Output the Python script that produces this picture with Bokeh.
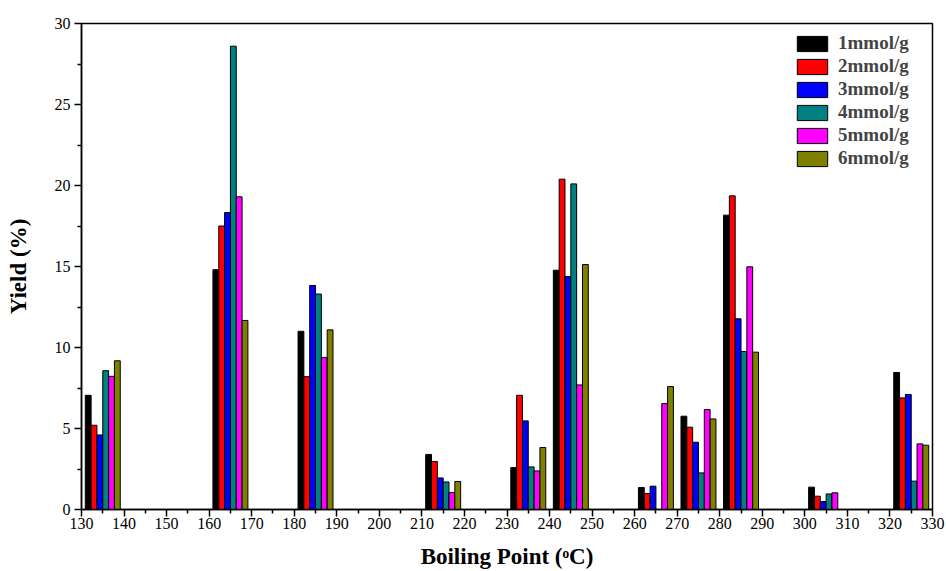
import math
from bokeh.plotting import figure
from bokeh.models import FixedTicker, Legend, LegendItem, ColumnDataSource
from bokeh.embed import file_html
from bokeh.resources import INLINE

nan = float("nan")

# Boiling point group centres (deg C)
boiling_points = [135, 165, 185, 215, 235, 245, 265, 275, 285, 305, 325]
series_names = ["1mmol/g", "2mmol/g", "3mmol/g", "4mmol/g", "5mmol/g", "6mmol/g"]
series_colors = ["#000000", "#FF0000", "#0000FF", "#008080", "#FF00FF", "#808000"]

yield_1 = [7.05, 14.8, 11.0, 3.4, 2.59, 14.77, 1.36, 5.76, 18.17, 1.38, 8.46]
yield_2 = [5.2, 17.5, 8.2, 2.96, 7.05, 20.39, 0.99, 5.08, 19.36, 0.82, 6.89]
yield_3 = [4.6, 18.33, 13.83, 1.95, 5.47, 14.38, 1.44, 4.15, 11.77, 0.49, 7.1]
yield_4 = [8.57, 28.6, 13.3, 1.7, 2.63, 20.1, nan, 2.26, 9.75, 0.96, 1.75]
yield_5 = [8.22, 19.3, 9.38, 1.05, 2.38, 7.69, 6.54, 6.17, 14.98, 1.03, 4.05]
yield_6 = [9.18, 11.67, 11.09, 1.73, 3.83, 15.12, 7.59, 5.59, 9.71, nan, 3.97]
all_series = [yield_1, yield_2, yield_3, yield_4, yield_5, yield_6]

x_ticks = list(range(130, 331, 10))
x_minor = list(range(135, 330, 10))
y_ticks = [0, 5, 10, 15, 20, 25, 30]
y_minor = [2.5, 7.5, 12.5, 17.5, 22.5, 27.5]

BAR_W = 1.37
SERIF = "Liberation Serif"

p = figure(width=946, height=571, output_backend="svg", toolbar_location=None,
           x_range=(130, 330), y_range=(0, 30),
           min_border_left=81, min_border_right=14, min_border_top=23, min_border_bottom=62)
p.xgrid.visible = False
p.ygrid.visible = False
p.outline_line_color = "black"
p.outline_line_width = 1.5
p.background_fill_color = "white"
p.border_fill_color = "white"

items = []
n = len(all_series)
for i, (vals, name, col) in enumerate(zip(all_series, series_names, series_colors)):
    xs = [c + (i - (n - 1) / 2) * BAR_W for c in boiling_points]
    src = ColumnDataSource(dict(x=xs, top=vals))
    r = p.vbar(x="x", top="top", bottom=0, width=BAR_W, source=src,
               fill_color=col, line_color="black", line_width=1)
    items.append(LegendItem(label=name, renderers=[r]))

for ax in (p.xaxis[0], p.yaxis[0]):
    ax.axis_line_width = 1.5
    ax.major_tick_line_width = 1.5
    ax.minor_tick_line_width = 1.5
    ax.major_tick_in = 0
    ax.major_tick_out = 7
    ax.minor_tick_in = 0
    ax.minor_tick_out = 4
    ax.major_label_text_font = SERIF
    ax.major_label_text_font_size = "16px"
    ax.major_label_text_color = "black"
    ax.axis_label_text_font = SERIF
    ax.axis_label_text_font_style = "bold"
    ax.axis_label_text_font_size = "23px"
    ax.axis_label_text_color = "black"

p.xaxis[0].ticker = FixedTicker(ticks=x_ticks, minor_ticks=x_minor)
p.yaxis[0].ticker = FixedTicker(ticks=y_ticks, minor_ticks=y_minor)
p.xaxis[0].axis_label = "Boiling Point (\u1d52C)"
p.yaxis[0].axis_label = "Yield (%)"
p.xaxis[0].major_label_standoff = 1
p.yaxis[0].major_label_standoff = 4
p.xaxis[0].axis_label_standoff = 12
p.yaxis[0].axis_label_standoff = 21

legend = Legend(items=items, location=(712, 340))
legend.border_line_color = None
legend.background_fill_alpha = 0
legend.margin = 0
legend.padding = 11
legend.spacing = 1
legend.glyph_width = 38
legend.glyph_height = 19
legend.label_height = 19
legend.label_standoff = 7
legend.label_width = 70
legend.label_text_font = SERIF
legend.label_text_font_style = "bold"
legend.label_text_font_size = "19px"
p.add_layout(legend)

open("out.html", "w").write(file_html(p, INLINE))
